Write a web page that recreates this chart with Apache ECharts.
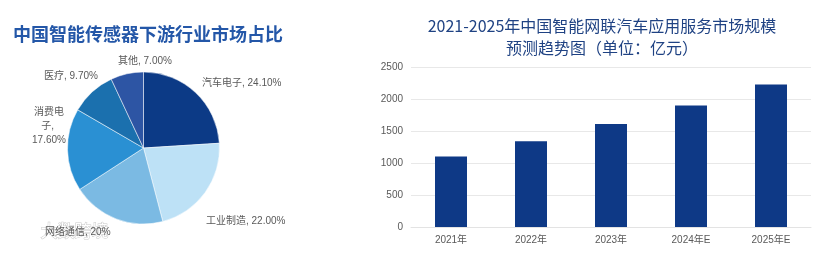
<!DOCTYPE html>
<html>
<head>
<meta charset="utf-8">
<script src="https://cdn.jsdelivr.net/npm/echarts@6/dist/echarts.min.js"></script>
<style>html,body{margin:0;padding:0;background:#fff}#c{width:830px;height:254px}</style>
</head>
<body>
<div id="c"></div>
<script>
const pieNames = ['汽车电子', '工业制造', '网络通信', '消费电子', '医疗', '其他'];
const pieValues = [24.1, 22.0, 20.0, 17.6, 9.7, 7.0];
const pieLabels = ['24.10%', '22.00%', '20%', '17.60%', '9.70%', '7.00%'];
const pieColors = ['#0c3a86', '#bde1f6', '#7bbae3', '#2a90d3', '#1b70ae', '#2d55a4'];

const barCategories = ['2021年', '2022年', '2023年', '2024年E', '2025年E'];
const barValues = [1100, 1340, 1610, 1900, 2225];
const yTicks = [0, 500, 1000, 1500, 2000, 2500];

// label placement (layout only, like the source's manual label positions)
const pieLabelPlace = [
  {x: 202, y: 83, align: 'left'},
  {x: 206, y: 221, align: 'left'},
  {x: 45, y: 232, align: 'left'},
  {x: 49, y: 126, align: 'center'},
  {x: 44, y: 76, align: 'left'},
  {x: 118, y: 61, align: 'left'}
];

const FONT = 'Liberation Sans, Noto Sans CJK SC, sans-serif';
const chart = echarts.init(document.getElementById('c'), null, {renderer: 'canvas'});
chart.setOption({
  animation: false,
  backgroundColor: '#fff',
  title: [
    {text: '中国智能传感器下游行业市场占比', left: 8, top: 20,
     textStyle: {fontFamily: 'Noto Sans CJK SC', fontSize: 18, fontWeight: 'bold', color: '#2457a8'}},
    {text: '2021-2025年中国智能网联汽车应用服务市场规模\n预测趋势图（单位：亿元）', left: 597, top: 10, textAlign: 'center',
     textStyle: {fontFamily: 'Noto Sans CJK SC', fontSize: 16, fontWeight: 'normal', color: '#1f4283', lineHeight: 22}}
  ],
  grid: {left: 411, right: 19, top: 67, bottom: 27},
  xAxis: {type: 'category', data: barCategories,
    axisLine: {lineStyle: {color: '#e3e3e3'}}, axisTick: {show: false},
    axisLabel: {color: '#595959', fontSize: 10, fontFamily: FONT, margin: 8}},
  yAxis: {type: 'value', min: yTicks[0], max: yTicks[yTicks.length - 1], interval: 500,
    axisLine: {show: false}, axisTick: {show: false},
    splitLine: {lineStyle: {color: '#e8e8e8'}},
    axisLabel: {color: '#595959', fontSize: 10, fontFamily: FONT, margin: 8, formatter: v => String(v)}},
  series: [
    {type: 'bar', data: barValues, barWidth: '40%',
     itemStyle: {color: '#0e3986'}},
    {type: 'pie', center: [143.5, 148], radius: 76, startAngle: 90,
     data: pieNames.map((n, i) => ({name: n, value: pieValues[i],
       label: i === 3 ? {width: 34, overflow: 'break', align: 'center', lineHeight: 14} : {}})),
     color: pieColors,
     itemStyle: {borderColor: '#fff', borderWidth: 0.5},
     label: {show: true, position: 'outside', color: '#595959', fontSize: 10, fontFamily: FONT,
       formatter: p => p.name + ', ' + pieLabels[p.dataIndex]},
     labelLine: {show: false, length: 8, length2: 0},
     labelLayout: p => {
       const s = pieLabelPlace[p.dataIndex];
       return {x: s.x, y: s.y, align: s.align, verticalAlign: 'middle'};
     }}
  ],
  graphic: [
    {type: 'text', left: 40, top: 222, silent: true,
     style: {text: '大数跨境', fontSize: 17, fontFamily: 'Noto Sans CJK SC', fill: '#ffffff', stroke: '#c9c9c9', lineWidth: 1}}
  ]
});
</script>
</body>
</html>
